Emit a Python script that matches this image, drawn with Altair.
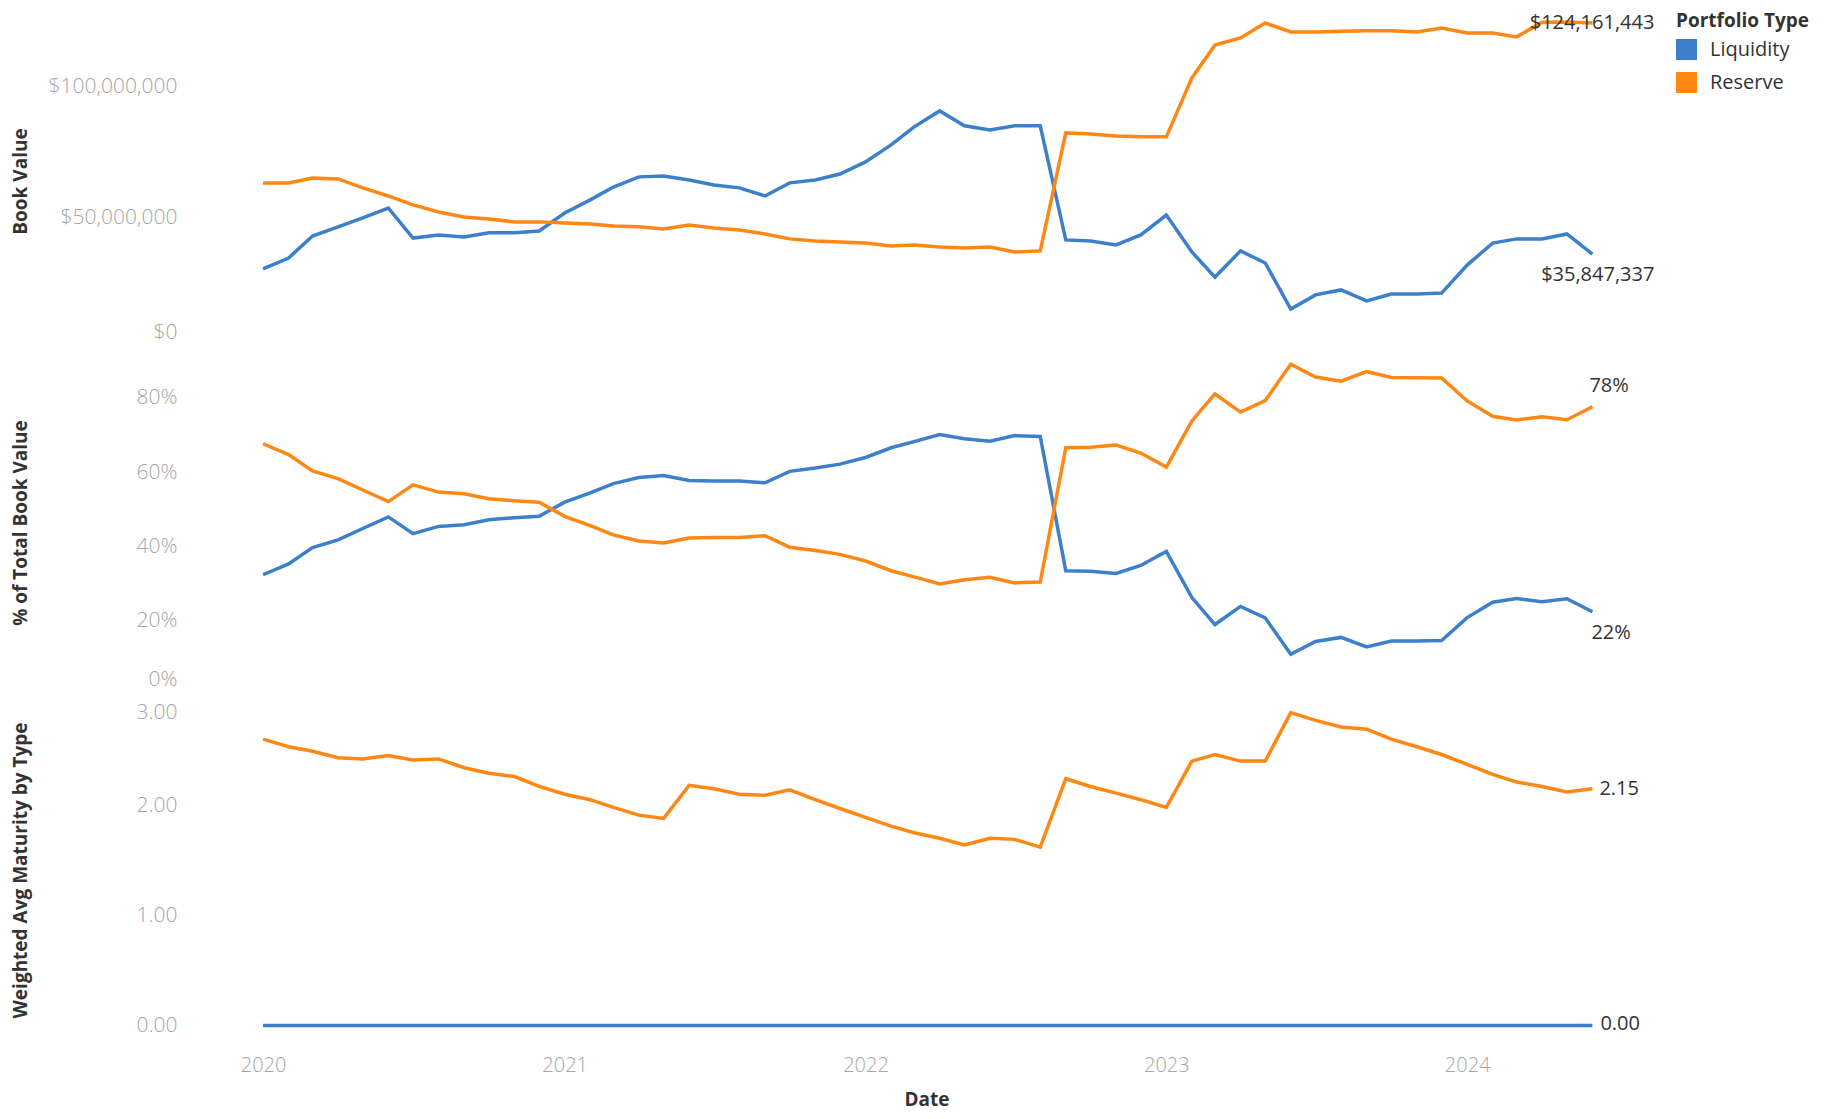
import altair as alt
import pandas as pd

# ---------------- data ----------------
months = pd.date_range("2020-01-01", periods=54, freq="MS").strftime("%Y-%m-%d").tolist()

# Book value, millions of dollars
liquidity_book_m = [30.2, 34.4, 42.8, 46.3, 49.7, 53.5, 42.0, 43.2, 42.4, 44.0, 44.0, 44.7,
                    51.6, 56.6, 61.5, 65.4, 65.7, 64.2, 62.3, 61.2, 58.1, 63.1, 64.2, 66.5,
                    71.1, 77.6, 84.5, 90.6, 84.9, 83.3, 84.9, 84.9, 41.3, 40.9, 39.4, 43.2,
                    50.8, 36.7, 27.1, 37.1, 32.5, 14.9, 20.3, 22.2, 18.0, 20.6, 20.6, 21.0,
                    31.7, 40.1, 41.7, 41.7, 43.6, 35.847337]
reserve_book_m = [63.1, 63.1, 65.0, 64.6, 61.2, 58.1, 54.7, 52.0, 50.1, 49.3, 48.2, 48.2,
                  47.8, 47.4, 46.6, 46.3, 45.5, 47.0, 45.9, 45.1, 43.6, 41.7, 40.9, 40.5,
                  40.1, 39.0, 39.4, 38.6, 38.2, 38.6, 36.7, 37.1, 82.2, 81.8, 81.0, 80.7,
                  80.7, 103.2, 115.8, 118.5, 124.2, 120.8, 120.8, 121.0, 121.2, 121.2, 120.8, 122.3,
                  120.4, 120.4, 118.9, 124.5, 124.6, 124.161443]

# Weighted average maturity (years)
liquidity_wam = [0.0] * 54
reserve_wam = [2.60, 2.53, 2.49, 2.43, 2.42, 2.45, 2.41, 2.42, 2.34, 2.29, 2.26, 2.17,
               2.10, 2.05, 1.98, 1.91, 1.88, 2.18, 2.15, 2.10, 2.09, 2.14, 2.05, 1.97,
               1.89, 1.81, 1.75, 1.70, 1.64, 1.70, 1.69, 1.62, 2.24, 2.17, 2.11, 2.05,
               1.98, 2.40, 2.46, 2.40, 2.40, 2.84, 2.77, 2.71, 2.69, 2.60, 2.53, 2.46,
               2.37, 2.28, 2.21, 2.17, 2.12, 2.15]

types = ["Liquidity", "Reserve"]
n = len(months)
df = pd.DataFrame({
    "date": months * 2,
    "idx": list(range(n)) * 2,
    "type": [types[0]] * n + [types[1]] * n,
    "book": [round(v * 1e6) for v in liquidity_book_m + reserve_book_m],
    "wam": liquidity_wam + reserve_wam,
})
last = n - 1

# ---------------- styling ----------------
BLUE = "#3c80cc"
ORANGE = "#ff8714"
FONT = "Open Sans"
W = 1467

x_scale = alt.Scale(type="utc", nice=False,
                    domain=[alt.DateTime(year=2019, month=10, date=8, utc=True),
                            alt.DateTime(year=2024, month=8, date=22, utc=True)])
x_hidden = alt.X("date:T", scale=x_scale, axis=None)
x_shown = alt.X("date:T", scale=x_scale,
                axis=alt.Axis(title="Date", format="%Y", labelFlush=False,
                              values=[alt.DateTime(year=y, month=1, date=1, utc=True)
                                      for y in range(2020, 2025)],
                              labelPadding=10, titlePadding=15, labelFontSize=20))

# line colours (no legend of their own; categories sort to Liquidity, Reserve)
color = alt.Color("type:N", scale=alt.Scale(range=[BLUE, ORANGE]), legend=None)
# square swatch legend
legend_fill = alt.Fill("type:N", scale=alt.Scale(domain=types, range=[BLUE, ORANGE]),
                       legend=alt.Legend(title="Portfolio Type"))


def ylab(title, values, fmt, domain):
    return dict(scale=alt.Scale(domain=domain, nice=False, zero=False),
                axis=alt.Axis(title=title, values=values, format=fmt, labelFlush=16,
                              labelFlushOffset=-6))


def end_labels(base, field, fmt, y_enc, x_enc, cfg):
    layers = []
    for t, (align, dx, dy) in cfg.items():
        layers.append(
            base.transform_filter(f"datum.idx == {last} && datum.type == '{t}'")
            .mark_text(font=FONT, fontSize=20, color="#333333", align=align,
                       baseline="middle", dx=dx, dy=dy)
            .encode(x=x_enc, y=y_enc, text=alt.Text(field, format=fmt))
        )
    return layers


base = alt.Chart(df)

# Panel 1: Book Value
y1 = alt.Y("book:Q", **ylab("Book Value", [0, 50_000_000, 100_000_000], "$,.0f",
                            [-760_000, 128_400_000]))
p1 = alt.layer(
    base.mark_line(strokeWidth=3.5).encode(x=x_hidden, y=y1, color=color),
    # zero-size squares: only carry the square legend swatches
    base.mark_square(size=0).encode(x=x_hidden, y=y1, fill=legend_fill),
    *end_labels(base, "book:Q", "$,.0f", y1, x_hidden,
                {"Reserve": ("right", 62, 0), "Liquidity": ("right", 62, 21)}),
).properties(width=W, height=338)

# Panel 2: % of Total Book Value
base2 = base.transform_joinaggregate(total="sum(book)", groupby=["idx"]).transform_calculate(
    share="datum.book / datum.total")
y2 = alt.Y("share:Q", **ylab("% of Total Book Value", [0, 0.2, 0.4, 0.6, 0.8], ".0%",
                             [0, 0.9287]))
p2 = alt.layer(
    base2.mark_line(strokeWidth=3.5).encode(x=x_hidden, y=y2, color=color),
    *end_labels(base2, "share:Q", ".0%", y2, x_hidden,
                {"Reserve": ("left", -3, -21), "Liquidity": ("left", -1, 21)}),
).properties(width=W, height=345)

# Panel 3: Weighted Avg Maturity by Type
y3 = alt.Y("wam:Q", **ylab("Weighted Avg Maturity by Type", [0, 1, 2, 3], ".2f",
                           [-0.176, 3.0]))
p3 = alt.layer(
    base.mark_line(strokeWidth=3.5).encode(x=x_shown, y=y3, color=color),
    *end_labels(base, "wam:Q", ".2f", y3, x_shown,
                {"Reserve": ("left", 7, 0), "Liquidity": ("left", 8, -2)}),
).properties(width=W, height=350)

chart = (
    alt.vconcat(p1, p2, p3, spacing=0)
    .resolve_scale(color="shared")
    .properties(padding={"left": 3, "top": 4, "right": 0, "bottom": 3})
    .configure_view(strokeWidth=0)
    .configure_axis(
        grid=False, domain=False, ticks=False, tickSize=0,
        labelFont=FONT, labelFontSize=20, labelFontWeight=300, labelColor="#a5a5a5",
        titleFont=FONT, titleFontSize=19, titleFontWeight="bold", titleColor="#333333",
    )
    .configure_axisY(labelPadding=16, labelFontSize=21, minExtent=150, maxExtent=150,
                     titlePadding=13)
    .configure_legend(
        orient="right", offset=16, padding=0,
        titleFont=FONT, titleFontSize=19, titleFontWeight="bold", titleColor="#333333",
        labelFont=FONT, labelFontSize=20, labelColor="#333333",
        symbolType="square", symbolSize=441, symbolStrokeWidth=0, symbolOpacity=1,
        rowPadding=12, titlePadding=8, labelOffset=13,
    )
)

chart.save("out.html", embed_options={"renderer": "svg", "actions": False})
